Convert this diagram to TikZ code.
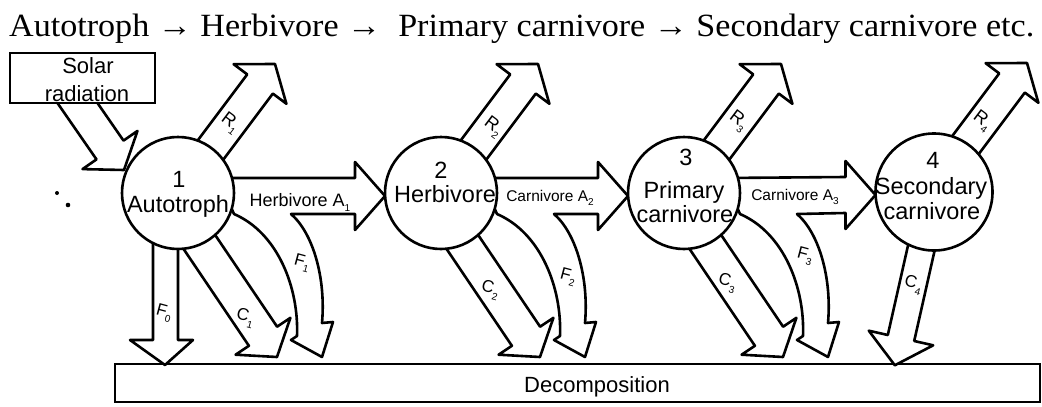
\documentclass[tikz,border=0pt]{standalone}
\usepackage{fontspec}
\setmainfont{Liberation Serif}
\newfontfamily\lab{Liberation Sans}
\usetikzlibrary{calc}
\newcommand{\lowsub}[1]{\raisebox{-0.3em}{\fontsize{10}{10}\selectfont #1}}
\tikzset{
  fat/.style={draw=black, fill=white, line width=2.6pt, line join=round},
  circ/.style={circle, draw=black, fill=white, line width=2.6pt, inner sep=0pt, outer sep=0pt},
  boxst/.style={rectangle, draw=black, fill=white, line width=2.6pt, inner sep=0pt, outer sep=0pt},
  ctext/.style={font=\lab\fontsize{23.5}{23.5}\selectfont, inner sep=0pt, anchor=base},
  btext/.style={font=\lab\fontsize{22}{22}\selectfont, inner sep=0pt, anchor=base},
  hlab/.style={font=\lab\fontsize{18}{18}\selectfont, inner sep=0pt, anchor=base},
  clab/.style={font=\lab\fontsize{15.5}{15.5}\selectfont, inner sep=0pt, anchor=base},
  flab/.style={font=\lab\fontsize{17}{17}\selectfont, inner sep=0pt, rotate=-15},
  rlab/.style={font=\lab\fontsize{18}{18}\selectfont, inner sep=0pt, rotate=-37},
}
% horizontal arrow from #1 to #2 with the curved F arrow branching off
\newcommand{\chainarrow}[2]{%
  \draw[fat] ($(#1)+(40,-15)$) -- ($(#2.west)+(-30,-15)$) -- ($(#2.west)+(-30,-31)$)
    -- ($(#2.west)+(0,3)$) -- ($(#2.west)+(-30,37)$) -- ($(#2.west)+(-30,21)$)
    -- ($(#1)+(113,21)$) .. controls ($(#1)+(135,40)$) and ($(#1)+(148,85)$) .. ($(#1)+(144,130)$)
    -- ($(#1)+(155,129)$) -- ($(#1)+(144,164)$) -- ($(#1)+(113,147)$) -- ($(#1)+(119,143)$)
    .. controls ($(#1)+(121,95)$) and ($(#1)+(100,40)$) .. ($(#1)+(56,21)$) -- cycle;}
% straight C arrow down-right
\newcommand{\carrow}[1]{%
  \draw[fat] ($(#1)+(-1.9,44.9)$) -- ($(#1)+(70.9,152.8)$) -- ($(#1)+(57.6,161.7)$)
    -- ($(#1)+(99,164)$) -- ($(#1)+(112.4,124.8)$) -- ($(#1)+(99.1,133.7)$)
    -- ($(#1)+(26.3,25.9)$) -- cycle;}
% R arrow up-right, #2 = horizontal shift
\newcommand{\rarrow}[2]{%
  \draw[fat] ($(#1)+(#2,0)+(9.2,-38.6)$) -- ($(#1)+(#2,0)+(69.2,-118.6)$) -- ($(#1)+(#2,0)+(55.6,-128.8)$)
    -- ($(#1)+(#2,0)+(97,-129)$) -- ($(#1)+(#2,0)+(108.4,-89.2)$) -- ($(#1)+(#2,0)+(94.8,-99.4)$)
    -- ($(#1)+(#2,0)+(34.8,-19.4)$) -- cycle;}
\begin{document}
\begin{tikzpicture}[x=1pt,y=-1pt]
\useasboundingbox (0,0) rectangle (1042,407);

% title
\node[inner sep=0pt, anchor=base west] (title) at (9,36)
  {\resizebox{1025pt}{22.5pt}{\fontsize{30}{30}\selectfont Autotroph → Herbivore →\ \ Primary carnivore → Secondary carnivore etc.}};

% decomposition box
\node[boxst, minimum width=925pt, minimum height=38pt] (dec) at (577.5,383) {};

% circle positions
\coordinate (p1) at (178,193);
\coordinate (p2) at (441,193);
\coordinate (p3) at (684,193);
\coordinate (p4) at (934,192);
\path (p1) node[circ, minimum size=112pt, draw=none, fill=none] (c1) {};
\path (p2) node[circ, minimum size=112pt, draw=none, fill=none] (c2) {};
\path (p3) node[circ, minimum size=112pt, draw=none, fill=none] (c3) {};
\path (p4) node[circ, minimum size=117pt, draw=none, fill=none] (c4) {};

% solar arrow
\draw[fat] ($(c1)+(-126.5,-98.6)$) -- ($(c1)+(-81.5,-33.6)$) -- ($(c1)+(-95.5,-23.9)$)
  -- ($(c1)+(-54,-23)$) -- ($(c1)+(-40.5,-62.1)$) -- ($(c1)+(-54.5,-52.4)$)
  -- ($(c1)+(-99.5,-117.4)$) -- cycle;

% respiration arrows
\rarrow{c1}{0}
\rarrow{c2}{0}
\rarrow{c3}{0}
\rarrow{c4}{-4}

% consumption arrows
\carrow{c1}
\carrow{c2}
\carrow{c3}
\draw[fat] ($(c4)+(6.6,32)$) -- ($(c4)+(-19.8,149)$) -- ($(c4)+(-0.8,153.3)$)
  -- ($(c4)+(-39.2,173.3)$) -- ($(c4)+(-65.2,138.7)$) -- ($(c4)+(-46.2,143)$)
  -- ($(c4)+(-19.8,26)$) -- cycle;

% F0 arrow straight down
\draw[fat] ($(c1)+(-25,20)$) -- ($(c1)+(-25,147)$) -- ($(c1)+(-48,147)$)
  -- ($(c1)+(-13,172)$) -- ($(c1)+(15,147)$) -- ($(c1)+(0,147)$) -- ($(c1)+(0,20)$) -- cycle;

% chain arrows with branching F arrows
\chainarrow{c1}{c2}
\chainarrow{c2}{c3}
\chainarrow{c3}{c4}

% solar box
\node[boxst, minimum width=145pt, minimum height=50pt] (solar) at (82.5,78) {};

% circles on top
\node[circ, minimum size=112pt] at (c1) {};
\node[circ, minimum size=112pt] at (c2) {};
\node[circ, minimum size=112pt] at (c3) {};
\node[circ, minimum size=117pt] at (c4) {};

% specks
\fill (57,193) circle (2);
\fill (68,205) circle (2.3);

% texts
\node[btext] (solart1) at (88,73) {Solar};
\node[btext] (solart2) at (87,101) {radiation};
\node[btext] (dect) at (597,392) {Decomposition};

\node[ctext] (n1) at (179,187) {1};
\node[ctext] (t1) at (178,212) {Autotroph};
\node[ctext] (n2) at (441,178) {2};
\node[ctext] (t2) at (445,202) {Herbivore};
\node[ctext] (n3) at (686,165) {3};
\node[ctext] (t3a) at (684,198) {Primary};
\node[ctext] (t3b) at (685,222) {carnivore};
\node[ctext] (n4) at (933,168) {4};
\node[ctext] (t4a) at (931,194) {Secondary};
\node[ctext] (t4b) at (932,219) {carnivore};

\node[hlab] (a1) at (300,206) {Herbivore A\lowsub{1}};
\node[clab] (a2) at (550,201) {Carnivore A\lowsub{2}};
\node[clab] (a3) at (795,200) {Carnivore A\lowsub{3}};

\node[rlab] (r1) at ($(c1)+(52,-70)$) {R\lowsub{1}};
\node[rlab] (r2) at ($(c2)+(52,-66)$) {R\lowsub{2}};
\node[rlab] (r3) at ($(c3)+(54,-72)$) {R\lowsub{3}};
\node[rlab] (r4) at ($(c4)+(48,-71)$) {R\lowsub{4}};

\node[flab] (cl1) at ($(c1)+(67,125)$) {C\lowsub{1}};
\node[flab] (cl2) at ($(c2)+(49,97)$) {C\lowsub{2}};
\node[flab] (cl3) at ($(c3)+(43,90)$) {C\lowsub{3}};
\node[flab] (cl4) at ($(c4)+(-21,93)$) {C\lowsub{4}};

\node[flab] (f0) at ($(c1)+(-14,120)$) {F\lowsub{0}};
\node[flab] (f1) at ($(c1)+(124,70)$) {F\lowsub{1}};
\node[flab] (f2) at ($(c2)+(127,84)$) {F\lowsub{2}};
\node[flab] (f3) at ($(c3)+(121,63)$) {F\lowsub{3}};
\end{tikzpicture}
\end{document}
